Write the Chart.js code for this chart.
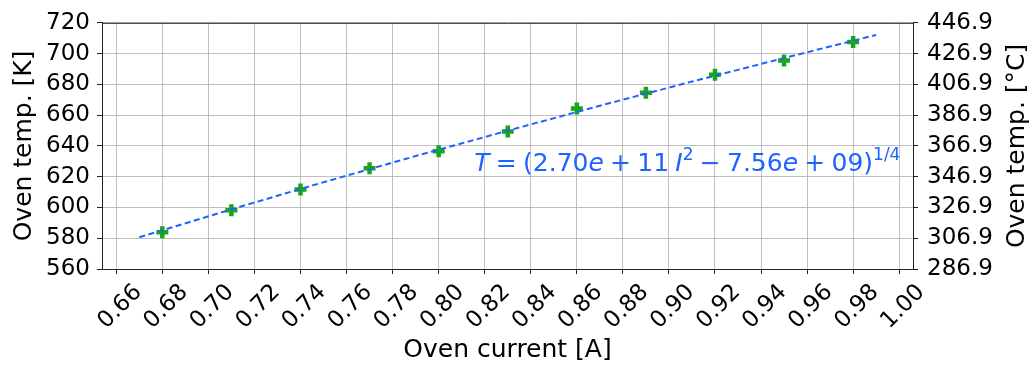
<!DOCTYPE html>
<html>
<head>
<meta charset="utf-8">
<script src="https://cdn.jsdelivr.net/npm/chart.js@4.4.1/dist/chart.umd.min.js"></script>
<style>
  html, body { margin: 0; background: #fff; }
  #wrap { width: 1032px; height: 369px; }
</style>
</head>
<body>
<div id="wrap"><canvas id="ovenChart"></canvas></div>
<script>
// measured oven temperature against heater current
const currentA = [0.68, 0.71, 0.74, 0.77, 0.80, 0.83, 0.86, 0.89, 0.92, 0.95, 0.98];
const tempK = [583.9, 598.2, 611.6, 625.5, 636.6, 649.4, 664.3, 674.6, 686.3, 695.5, 707.6];

// fitted curve, sampled along the current range
const fitCurrentA = [0.67, 0.71, 0.75, 0.79, 0.83, 0.87, 0.91, 0.95, 0.99];
const fitTempK = [580.6, 598.8, 616.4, 633.4, 649.9, 666.1, 681.8, 697.1, 712.1];

const currentTicks = [0.66, 0.68, 0.70, 0.72, 0.74, 0.76, 0.78, 0.80, 0.82, 0.84,
                      0.86, 0.88, 0.90, 0.92, 0.94, 0.96, 0.98, 1.00];
const kelvinTicks = [560, 580, 600, 620, 640, 660, 680, 700, 720];
const celsiusTicks = [286.9, 306.9, 326.9, 346.9, 366.9, 386.9, 406.9, 426.9, 446.9];

const FONT = '"DejaVu Sans", sans-serif';
const BLUE = '#1f63ff';
const GREEN = '#19a619';
const GRID = 'rgba(176,176,176,0.8)';
const INK = '#222';
const SP = '\u2005';

// fit equation, drawn as rich text (italic symbols, superscripts)
const fitLabelParts = [
  { t: 'T', it: true },
  { t: SP + '=' + SP + '(2.70' },
  { t: 'e', it: true },
  { t: SP + '+' + SP + '11' + SP },
  { t: 'I', it: true },
  { t: '2', sup: true },
  { t: SP + '−' + SP + '7.56' },
  { t: 'e', it: true },
  { t: SP + '+' + SP + '09)' },
  { t: '1/4', sup: true }
];

const extras = {
  id: 'extras',
  afterDatasetsDraw(chart) {
    const { ctx, chartArea, scales: { x, y } } = chart;
    let px = x.getPixelForValue(0.8155);
    const py = y.getPixelForValue(624);
    ctx.save();
    ctx.fillStyle = BLUE;
    ctx.textAlign = 'left';
    ctx.textBaseline = 'alphabetic';
    for (const p of fitLabelParts) {
      ctx.font = (p.it ? 'italic ' : '') + (p.sup ? 17 : 25) + 'px ' + FONT;
      ctx.fillText(p.t, px, py - (p.sup ? 11 : 0));
      px += ctx.measureText(p.t).width;
    }
    // top spine of the frame
    ctx.strokeStyle = INK;
    ctx.lineWidth = 1;
    ctx.beginPath();
    ctx.moveTo(chartArea.left, chartArea.top + 0.5);
    ctx.lineTo(chartArea.right, chartArea.top + 0.5);
    ctx.stroke();
    // right axis title, reading bottom to top
    ctx.fillStyle = '#000';
    ctx.font = '25px ' + FONT;
    ctx.textAlign = 'center';
    ctx.textBaseline = 'middle';
    ctx.translate(1017, (chartArea.top + chartArea.bottom) / 2);
    ctx.rotate(-Math.PI / 2);
    ctx.fillText('Oven temp. [°C]', 0, 0);
    ctx.restore();
  }
};

const setTicks = values => scale => { scale.ticks = values.map(v => ({ value: v })); };

new Chart(document.getElementById('ovenChart'), {
  type: 'scatter',
  data: {
    datasets: [
      {
        label: 'fit',
        data: fitCurrentA.map((v, i) => ({ x: v, y: fitTempK[i] })),
        showLine: true,
        borderColor: BLUE,
        borderWidth: 2,
        borderDash: [6, 3.5],
        pointRadius: 0,
        yAxisID: 'y',
        order: 0
      },
      {
        label: 'measured',
        data: currentA.map((v, i) => ({ x: v, y: tempK[i] })),
        showLine: false,
        pointStyle: 'cross',
        pointRadius: 6,
        borderColor: GREEN,
        backgroundColor: GREEN,
        borderWidth: 4.5,
        yAxisID: 'y',
        order: 1
      }
    ]
  },
  options: {
    responsive: true,
    maintainAspectRatio: false,
    animation: false,
    layout: { padding: { top: 19, left: 0, right: 0, bottom: 0 } },
    plugins: { legend: { display: false }, tooltip: { enabled: false } },
    scales: {
      x: {
        type: 'linear',
        min: 0.6538,
        max: 1.006,
        afterBuildTicks: setTicks(currentTicks),
        afterFit: s => { s.height = 100; },
        border: { color: INK, width: 1 },
        grid: { color: GRID, lineWidth: 1, tickColor: INK, tickLength: 5 },
        ticks: {
          minRotation: 45, maxRotation: 45, autoSkip: false,
          labelOffset: 22, padding: 5,
          color: '#000', font: { family: FONT, size: 23 },
          callback: v => v.toFixed(2)
        },
        title: { display: true, text: 'Oven current [A]', color: '#000',
                 font: { family: FONT, size: 25 }, padding: { top: 0, bottom: 4 } }
      },
      y: {
        position: 'left',
        min: 560,
        max: 720,
        afterBuildTicks: setTicks(kelvinTicks),
        afterFit: s => { s.width = 102; },
        border: { color: INK, width: 1 },
        grid: { color: GRID, lineWidth: 1, tickColor: INK, tickLength: 5 },
        ticks: { color: '#000', padding: 7, font: { family: FONT, size: 23 } },
        title: { display: true, text: 'Oven temp. [K]', color: '#000',
                 font: { family: FONT, size: 25 }, padding: { top: 9, bottom: 0 } }
      },
      yC: {
        position: 'right',
        min: 286.9,
        max: 446.9,
        afterBuildTicks: setTicks(celsiusTicks),
        afterFit: s => { s.width = 119; },
        border: { color: INK, width: 1 },
        grid: { drawOnChartArea: false, tickColor: INK, tickLength: 5 },
        ticks: { color: '#000', padding: 9, font: { family: FONT, size: 23 },
                 callback: v => v.toFixed(1) },
        title: { display: false }
      }
    }
  },
  plugins: [extras]
});
</script>
</body>
</html>
